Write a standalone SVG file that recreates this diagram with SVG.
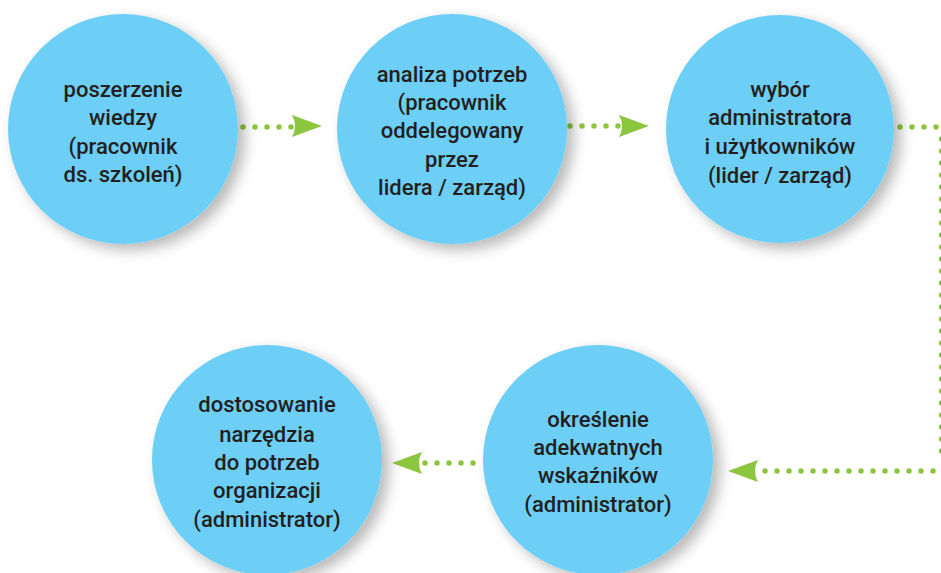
<svg xmlns="http://www.w3.org/2000/svg" xmlns:xlink="http://www.w3.org/1999/xlink" width="941" height="573" viewBox="0 0 941 573">
  <defs>
    <filter id="sh" x="-30%" y="-30%" width="160%" height="160%">
      <feDropShadow dx="7" dy="6" stdDeviation="7" flood-color="#000" flood-opacity="0.28"/>
    </filter>
    <path id="ah" d="M0,0 L-30,-11 Q-24,0 -30,11 Z" fill="#8cc63f"/>
  </defs>
  <style>
    .node { fill: #6dcff6; filter: url(#sh); }
    .lbl { font-family: Roboto, "Liberation Sans", Arial, sans-serif; font-weight: 500; font-size: 22px; fill: #231f20; text-anchor: middle; }
    .dots { stroke: #8cc63f; stroke-width: 5.5; stroke-linecap: round; stroke-dasharray: 0 12; fill: none; }
  </style>
  <rect width="941" height="573" fill="#ffffff"/>

  <g id="connectors">
    <line class="dots" x1="243" y1="127" x2="292" y2="127"/>
    <use xlink:href="#ah" transform="translate(322,126)"/>
    <line class="dots" x1="570" y1="126" x2="619" y2="126"/>
    <use xlink:href="#ah" transform="translate(649,126)"/>
    <line class="dots" x1="900" y1="127" x2="940" y2="127"/>
    <line class="dots" x1="941.5" y1="139" x2="941.5" y2="463"/>
    <line class="dots" x1="933" y1="471" x2="758" y2="471"/>
    <use xlink:href="#ah" transform="translate(728,471) rotate(180)"/>
    <line class="dots" x1="473" y1="463" x2="420" y2="463"/>
    <use xlink:href="#ah" transform="translate(392,463) rotate(180)"/>
  </g>

  <g id="node1">
    <circle class="node" cx="123" cy="129" r="115"/>
    <text class="lbl"><tspan x="123" y="97">poszerzenie</tspan><tspan x="123" y="125">wiedzy</tspan><tspan x="123" y="154">(pracownik</tspan><tspan x="123" y="182">ds. szkoleń)</tspan></text>
  </g>
  <g id="node2">
    <circle class="node" cx="452" cy="129" r="115"/>
    <text class="lbl"><tspan x="452" y="82">analiza potrzeb</tspan><tspan x="452" y="110">(pracownik</tspan><tspan x="452" y="138">oddelegowany</tspan><tspan x="452" y="167">przez</tspan><tspan x="452" y="195">lidera / zarząd)</tspan></text>
  </g>
  <g id="node3">
    <circle class="node" cx="780" cy="129" r="114"/>
    <text class="lbl"><tspan x="780" y="97">wybór</tspan><tspan x="780" y="125">administratora</tspan><tspan x="780" y="154">i użytkowników</tspan><tspan x="780" y="183">(lider / zarząd)</tspan></text>
  </g>
  <g id="node4">
    <circle class="node" cx="267" cy="460" r="115"/>
    <text class="lbl"><tspan x="267" y="412">dostosowanie</tspan><tspan x="267" y="442">narzędzia</tspan><tspan x="267" y="470">do potrzeb</tspan><tspan x="267" y="498">organizacji</tspan><tspan x="267" y="527">(administrator)</tspan></text>
  </g>
  <g id="node5">
    <circle class="node" cx="598" cy="460" r="115"/>
    <text class="lbl"><tspan x="598" y="427">określenie</tspan><tspan x="598" y="455">adekwatnych</tspan><tspan x="598" y="483">wskaźników</tspan><tspan x="598" y="512">(administrator)</tspan></text>
  </g>
</svg>
